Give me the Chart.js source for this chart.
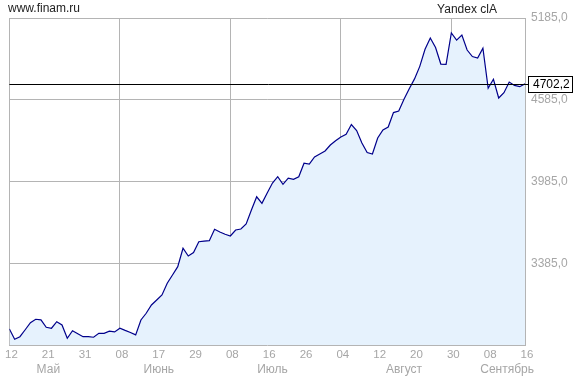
<!DOCTYPE html>
<html>
<head>
<meta charset="utf-8">
<script src="https://cdn.jsdelivr.net/npm/chart.js@4/dist/chart.umd.min.js"></script>
<style>
  html, body { margin: 0; padding: 0; background: #fff; }
  #wrap { width: 573px; height: 378px; position: relative; }
</style>
</head>
<body>
<div id="wrap"><canvas id="c"></canvas></div>
<script>
// Yandex clA closes, one point per trading day
const prices = [
  2903, 2827, 2846, 2897, 2949, 2974, 2969, 2915, 2908, 2956,
  2932, 2834, 2890, 2868, 2846, 2846, 2842, 2871, 2871, 2886,
  2881, 2908, 2892, 2877, 2859, 2969, 3018, 3079, 3115, 3152,
  3238, 3299, 3360, 3495, 3438, 3463, 3543, 3547, 3551, 3634,
  3614, 3598, 3585, 3629, 3636, 3673, 3776, 3873, 3825, 3901,
  3974, 4020, 3964, 4009, 4001, 4020, 4119, 4113, 4165, 4187,
  4209, 4253, 4284, 4312, 4331, 4403, 4359, 4268, 4198, 4187,
  4304, 4364, 4385, 4491, 4502, 4588, 4666, 4738, 4830, 4955,
  5038, 4968, 4847, 4845, 5075, 5023, 5060, 4950, 4902, 4891,
  4963, 4669, 4735, 4598, 4637, 4715, 4690, 4681, 4702.2
];
const dayLabels = ['12', '21', '31', '08', '17', '29', '08', '16', '26', '04', '12', '20', '30', '08', '16'];
const monthNames = ['Май', 'Июнь', 'Июль', 'Август', 'Сентябрь'];
const monthPos = [7.4, 28.4, 50, 75, 94.6];
const yTicks = [3385, 3985, 4585, 5185];
const yMin = 2785, yMax = 5185;
const labelStep = 7;

const gridColor = '#b4b4b4';
const textGray = '#a6a6a6';
const fontFam = '"Liberation Sans", Arial, sans-serif';

const fmt = v => v.toFixed(1).replace('.', ',');

// texts above the plot, month names, last price marker
const extras = {
  id: 'extras',
  afterDraw(chart) {
    const { ctx, chartArea, scales } = chart;
    const x = scales.x, y = scales.y;
    ctx.save();
    ctx.font = '12px ' + fontFam;
    ctx.fillStyle = '#222';
    ctx.textBaseline = 'middle';
    ctx.textAlign = 'left';
    ctx.fillText('www.finam.ru', 8, 9);
    ctx.textAlign = 'center';
    ctx.fillText('Yandex clA', 467, 10);

    ctx.fillStyle = textGray;
    monthNames.forEach((m, i) => {
      ctx.fillText(m, x.getPixelForValue(monthPos[i]), 370);
    });

    const last = prices[prices.length - 1];
    const ly = Math.round(y.getPixelForValue(last)) + 0.5;
    ctx.strokeStyle = '#000';
    ctx.lineWidth = 1;
    ctx.beginPath();
    ctx.moveTo(chartArea.left, ly);
    ctx.lineTo(528, ly);
    ctx.stroke();
    ctx.fillStyle = '#fff';
    ctx.fillRect(528.5, ly - 8, 44, 16);
    ctx.strokeRect(528.5, ly - 8, 44, 16);
    ctx.fillStyle = '#000';
    ctx.textAlign = 'left';
    ctx.fillText(fmt(last), 533, ly + 0.5);
    ctx.restore();
  }
};

new Chart(document.getElementById('c'), {
  type: 'line',
  data: {
    datasets: [{
      data: prices.map((p, i) => ({ x: i, y: p })),
      borderColor: '#00008b',
      borderWidth: 1.2,
      backgroundColor: '#e6f2fd',
      fill: 'start',
      pointRadius: 0,
      tension: 0
    }]
  },
  options: {
    responsive: true,
    maintainAspectRatio: false,
    animation: false,
    layout: { padding: { left: 8, top: 18, right: 0, bottom: 0 } },
    plugins: { legend: { display: false }, tooltip: { enabled: false } },
    scales: {
      x: {
        type: 'linear',
        min: 0,
        max: prices.length - 1,
        afterBuildTicks: s => { s.ticks = dayLabels.map((_, i) => ({ value: i * labelStep })); },
        afterFit: s => { s.height = 33; },
        grid: {
          drawTicks: false,
          color: c => (c.tick && c.tick.value % (labelStep * 3) === 0) || (c.tick && c.tick.value === prices.length - 1) ? gridColor : 'rgba(0,0,0,0)'
        },
        border: { display: true, color: gridColor },
        ticks: {
          autoSkip: false,
          maxRotation: 0,
          padding: 3,
          labelOffset: 2,
          color: textGray,
          font: { family: fontFam, size: 11.5 },
          callback: v => dayLabels[Math.round(v / labelStep)]
        }
      },
      y: {
        position: 'right',
        min: yMin,
        max: yMax,
        afterBuildTicks: s => { s.ticks = yTicks.map(v => ({ value: v })); },
        afterFit: s => { s.width = 48; },
        grid: { drawTicks: false, color: gridColor },
        border: { display: true, color: gridColor },
        ticks: {
          padding: 6,
          color: textGray,
          font: { family: fontFam, size: 12 },
          callback: v => fmt(v)
        }
      }
    }
  },
  plugins: [extras]
});
</script>
</body>
</html>
